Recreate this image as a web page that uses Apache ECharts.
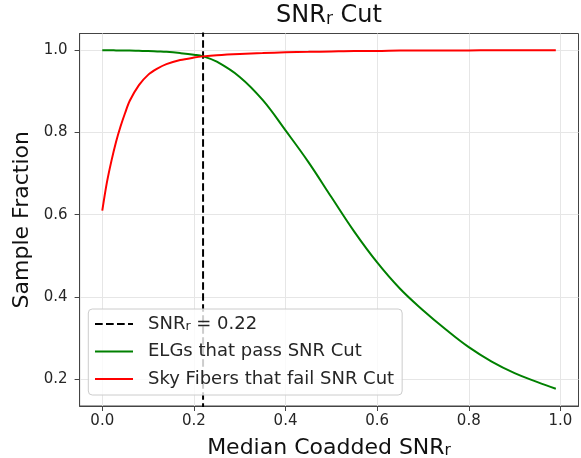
<!DOCTYPE html>
<html>
<head>
<meta charset="utf-8">
<script src="https://cdn.jsdelivr.net/npm/echarts@6/dist/echarts.min.js"></script>
<style>html,body{margin:0;padding:0;background:#fff}#c{width:581px;height:458px}</style>
</head>
<body>
<div id="c"></div>
<script>
// ---- data ----
const snrX      = [0, 0.01, 0.02, 0.03, 0.04, 0.05, 0.06, 0.08, 0.10, 0.12, 0.14, 0.17, 0.20, 0.22, 0.25, 0.30, 0.35, 0.40, 0.45, 0.50, 0.55, 0.60, 0.65, 0.70, 0.75, 0.80, 0.85, 0.90, 0.95, 0.99];
const elgPass   = [1.000, 1.000, 1.000, 0.9995, 0.9995, 0.999, 0.999, 0.9985, 0.998, 0.997, 0.996, 0.993, 0.989, 0.985, 0.972, 0.935, 0.879, 0.805, 0.728, 0.643, 0.559, 0.484, 0.420, 0.368, 0.321, 0.278, 0.243, 0.215, 0.193, 0.177];
const skyFail   = [0.610, 0.678, 0.731, 0.777, 0.815, 0.848, 0.877, 0.915, 0.940, 0.955, 0.966, 0.976, 0.982, 0.985, 0.988, 0.991, 0.993, 0.995, 0.996, 0.997, 0.998, 0.998, 0.999, 0.999, 0.999, 0.9995, 1.000, 1.000, 1.000, 1.000];
const cutValue  = 0.22;
const xTicks    = [0, 0.2, 0.4, 0.6, 0.8, 1.0];
const yTicks    = [0.2, 0.4, 0.6, 0.8, 1.0];
const names     = ['SNR_r = 0.22', 'ELGs that pass SNR Cut', 'Sky Fibers that fail SNR Cut'];

const FONT = 'DejaVu Sans';
const TXT = '#262626';
const SPINE = '#444444';
const GRIDC = '#e6e6e6';

const chart = echarts.init(document.getElementById('c'), null, {renderer: 'canvas'});
const zip = (xs, ys) => xs.map((x, i) => [x, ys[i]]);
const fmt1 = v => Number(v).toFixed(1);

chart.setOption({
  animation: false,
  backgroundColor: '#ffffff',
  title: {
    text: '{a|SNR}{s|r}{a| Cut}',
    left: 329, top: 0, textAlign: 'center', padding: 0,
    textStyle: {
      fontWeight: 'normal',
      rich: {
        a: {fontFamily: FONT, fontSize: 24, fontWeight: 'normal', lineHeight: 28, verticalAlign: 'bottom', color: '#111'},
        s: {fontFamily: FONT, fontSize: 17, fontWeight: 'normal', lineHeight: 12, verticalAlign: 'bottom', color: '#111'}
      }
    }
  },
  grid: {left: 79.6, right: 2.5, top: 33.5, bottom: 52, show: true, containLabel: false, outerBoundsMode: 'none',
         borderColor: SPINE, borderWidth: 1, backgroundColor: 'transparent'},
  xAxis: {
    type: 'value', min: -0.0495, max: 1.0395,
    name: '{a|Median Coadded SNR}{s|r}',
    nameLocation: 'middle', nameGap: 27,
    nameTextStyle: {
      rich: {
        a: {fontFamily: FONT, fontSize: 22, lineHeight: 26, verticalAlign: 'bottom', color: '#111'},
        s: {fontFamily: FONT, fontSize: 15.5, lineHeight: 15, verticalAlign: 'bottom', color: '#111'}
      }
    },
    axisLine: {show: true, onZero: false, lineStyle: {color: SPINE, width: 1}},
    axisTick: {show: true, length: 5, customValues: xTicks, lineStyle: {color: SPINE, width: 1}},
    axisLabel: {customValues: xTicks, formatter: fmt1, fontFamily: FONT, fontSize: 15, color: TXT, margin: 8},
    splitLine: {show: true, lineStyle: {color: GRIDC, width: 1}}
  },
  yAxis: {
    type: 'value', min: 0.135, max: 1.0406,
    name: 'Sample Fraction',
    nameLocation: 'middle', nameGap: 46,
    nameTextStyle: {fontFamily: FONT, fontSize: 22, color: '#111'},
    axisLine: {show: true, onZero: false, lineStyle: {color: SPINE, width: 1}},
    axisTick: {show: true, length: 5, customValues: yTicks, lineStyle: {color: SPINE, width: 1}},
    axisLabel: {customValues: yTicks, formatter: fmt1, fontFamily: FONT, fontSize: 15, color: TXT, margin: 12},
    splitLine: {show: true, lineStyle: {color: GRIDC, width: 1}}
  },
  legend: {
    orient: 'vertical', left: 88.3, top: 309,
    padding: [6, 8, 7, 5.7],
    itemGap: 9.5, itemWidth: 38, itemHeight: 18,
    backgroundColor: 'rgba(255,255,255,0.8)', borderColor: '#cccccc', borderWidth: 1, borderRadius: 4,
    itemStyle: {opacity: 0, borderWidth: 0},
    data: names,
    formatter: function (n) {
      if (n === names[0]) return '{g|}{a|SNR}{s|r}{a| = 0.22}';
      return '{g|}{a|' + n + '}';
    },
    textStyle: {
      rich: {
        g: {width: 10},
        a: {fontFamily: FONT, fontSize: 18, lineHeight: 18, verticalAlign: 'bottom', color: TXT},
        s: {fontFamily: FONT, fontSize: 12.6, lineHeight: 8.5, verticalAlign: 'bottom', color: TXT}
      }
    }
  },
  series: [
    {
      name: names[0], type: 'line', symbol: 'none', showSymbol: false, z: 2,
      data: [[cutValue, -1], [cutValue, 2]],
      lineStyle: {color: '#000000', width: 2, type: [7.7, 3.3]},
      itemStyle: {color: '#000000'}
    },
    {
      name: names[1], type: 'line', symbol: 'none', showSymbol: false, z: 3, smooth: 0.4,
      data: zip(snrX, elgPass),
      lineStyle: {color: '#008000', width: 2},
      itemStyle: {color: '#008000'}
    },
    {
      name: names[2], type: 'line', symbol: 'none', showSymbol: false, z: 3, smooth: 0.3,
      data: zip(snrX, skyFail),
      lineStyle: {color: '#ff0000', width: 2},
      itemStyle: {color: '#ff0000'}
    }
  ]
});
</script>
</body>
</html>
